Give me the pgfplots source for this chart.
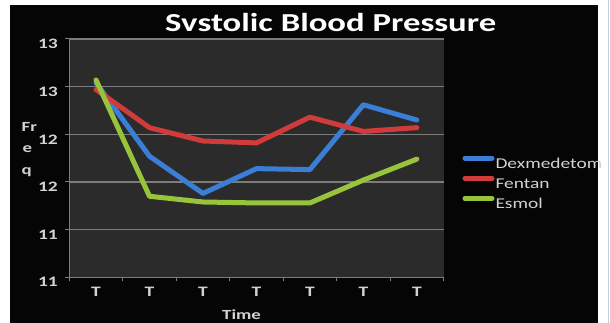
\documentclass[border=0pt]{standalone}
\usepackage{pgfplots}
\pgfplotsset{compat=1.18}
\usepackage{graphicx}
\usepackage{fontspec}
\setmainfont{Carlito}
\definecolor{bgblack}{HTML}{050505}
\definecolor{plotbg}{HTML}{2B2B2B}
\definecolor{gridc}{HTML}{7C7C7C}
\definecolor{labc}{HTML}{D2D2D2}
\definecolor{dexc}{HTML}{3A7FD5}
\definecolor{fenc}{HTML}{D13B3B}
\definecolor{esmc}{HTML}{98C43C}
\newcommand{\sx}[1]{\scalebox{1.35}[1]{#1}}
\newcommand{\lx}[1]{\scalebox{1.3}[1]{#1}}
\begin{document}
\begin{tikzpicture}
\fill[white] (0,0) rectangle (610bp,323bp);
\fill[bgblack] (10bp,0) rectangle (598bp,318bp);
\draw[color={rgb,255:red,190;green,210;blue,225}, line width=1.5bp] (608.5bp,0) -- (608.5bp,323bp);
\begin{axis}[
  at={(69.3bp,45.7bp)}, anchor=south west,
  scale only axis, width=374.3bp, height=238.3bp,
  xmin=-0.5, xmax=6.5, ymin=110, ymax=135,
  axis background/.style={fill=plotbg},
  axis x line*=bottom, axis y line*=left,
  axis line style={gridc, line width=1bp, -},
  xtick={-0.5,0.5,...,6.5}, xticklabels={},
  extra x ticks={0,1,...,6},
  extra x tick labels={\sx{T},\sx{T},\sx{T},\sx{T},\sx{T},\sx{T},\sx{T}},
  extra x tick style={major tick length=0pt, grid=none},
  ytick={110,115,...,135},
  yticklabels={\sx{11},\sx{11},\sx{12},\sx{12},\sx{13},\sx{13}},
  ymajorgrids, grid style={gridc, line width=1.2bp},
  tick align=outside, major tick length=4bp, tick style={gridc, line width=1bp},
  ticklabel style={font=\fontsize{14.5}{14.5}\selectfont\bfseries, text=labc},
  yticklabel style={yshift=-5bp, xshift=-4bp},
  xticklabel style={yshift=-6bp},
  legend style={at={(1.042,0.52)}, anchor=north west, draw=none, fill=none,
    text=labc, font=\fontsize{15}{15}\selectfont, row sep=5bp,
    nodes={inner sep=1bp}},
  legend cell align=left,
  legend image code/.code={\draw[#1, line width=5bp, line cap=round] (0bp,6bp) -- (27bp,6bp);},
  every axis plot/.append style={line width=5bp, line join=round, line cap=round},
]
\addplot[dexc] coordinates {(0,130.4) (1,122.7) (2,118.8) (3,121.4) (4,121.3) (5,128.1) (6,126.5)};
\addplot[fenc] coordinates {(0,129.7) (1,125.7) (2,124.3) (3,124.1) (4,126.8) (5,125.3) (6,125.7)};
\addplot[esmc] coordinates {(0,130.7) (1,118.5) (2,117.9) (3,117.8) (4,117.8) (5,120.2) (6,122.4)};
\legend{\lx{Dexmedetom},\lx{Fentan},\lx{Esmol}}
\end{axis}
\node[anchor=base west, text=white, font=\fontsize{26}{26}\selectfont\bfseries, inner sep=0pt] at (165bp,291.3bp) {\scalebox{1.34}[1]{Svstolic Blood Pressure}};
\node[anchor=base west, text=labc, font=\fontsize{14}{14}\selectfont\bfseries, inner sep=0pt] at (21.5bp,191bp) {\sx{Fr}};
\node[anchor=base west, text=labc, font=\fontsize{14}{14}\selectfont\bfseries, inner sep=0pt] at (22.5bp,170bp) {\sx{e}};
\node[anchor=base west, text=labc, font=\fontsize{14}{14}\selectfont\bfseries, inner sep=0pt] at (21.5bp,148bp) {\sx{q}};
\node[anchor=base west, text=labc, font=\fontsize{14}{14}\selectfont\bfseries, inner sep=0pt] at (222bp,3.7bp) {\sx{Time}};
\pgfresetboundingbox
\useasboundingbox (0,0) rectangle (610bp,323bp);
\end{tikzpicture}
\end{document}
